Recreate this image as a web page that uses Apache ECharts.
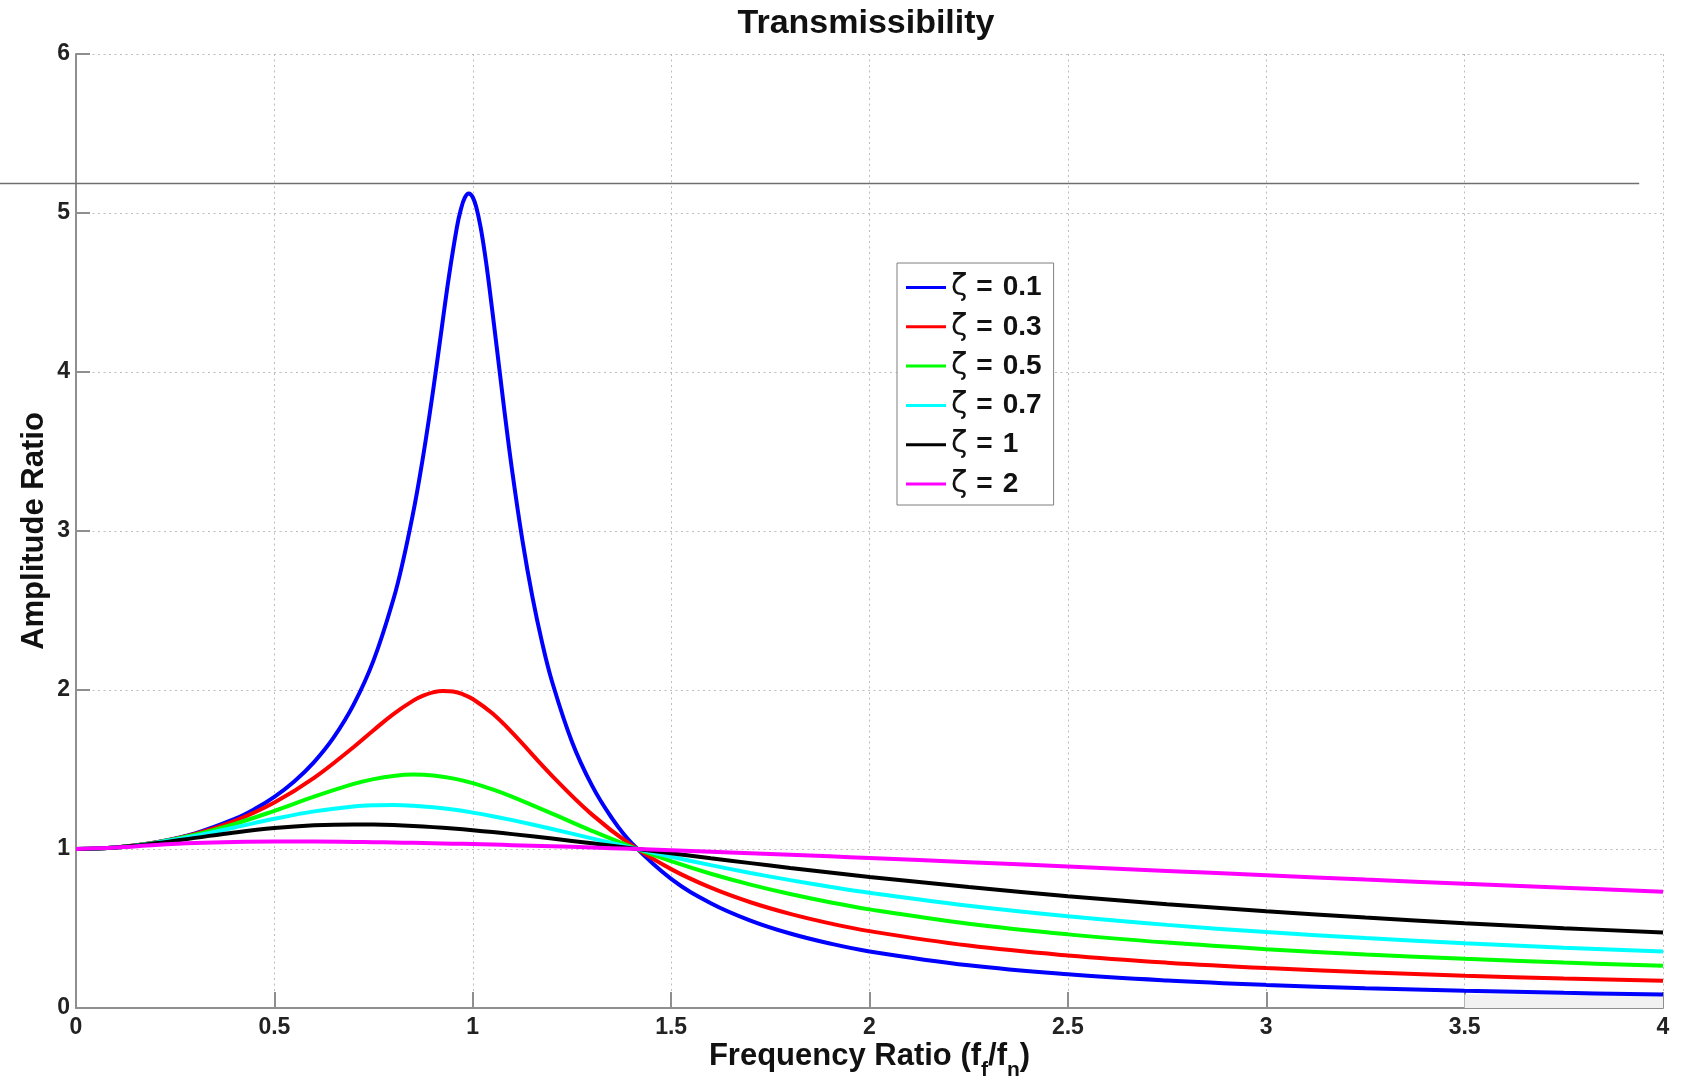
<!DOCTYPE html>
<html>
<head>
<meta charset="utf-8">
<title>Transmissibility</title>
<script src="https://cdn.jsdelivr.net/npm/echarts@6/dist/echarts.min.js"></script>
<style>
  html, body { margin: 0; padding: 0; background: #fff; }
  #chart { width: 1696px; height: 1082px; }
</style>
</head>
<body>
<div id="chart"></div>
<script>
// Frequency ratio r = f_f / f_n, finer sampling for the lightly damped curve around resonance
const ratioFine = [0, 0.1, 0.2, 0.3, 0.4, 0.45, 0.5, 0.55, 0.6, 0.65, 0.7, 0.75,
  0.8, 0.825, 0.85, 0.865, 0.88, 0.9, 0.92, 0.94, 0.96, 0.97, 0.98, 0.99,
  1.0, 1.01, 1.02, 1.03, 1.04, 1.06, 1.08, 1.1, 1.125, 1.15, 1.175, 1.2,
  1.25, 1.3, 1.35, 1.4, 1.5, 1.6, 1.7, 1.8, 1.9, 2.0,
  2.25, 2.5, 2.75, 3.0, 3.25, 3.5, 3.75, 4.0];

// Slightly denser around the ζ = 0.3 peak
const ratioMid = [0, 0.1, 0.2, 0.3, 0.4, 0.5, 0.6, 0.7, 0.75, 0.8, 0.85, 0.875, 0.9, 0.925, 0.95, 0.975,
  1.0, 1.05, 1.1, 1.2, 1.3, 1.4, 1.5, 1.6, 1.7, 1.8, 1.9, 2.0,
  2.25, 2.5, 2.75, 3.0, 3.25, 3.5, 3.75, 4.0];

const ratio = [0, 0.1, 0.2, 0.3, 0.4, 0.5, 0.6, 0.7, 0.75, 0.8, 0.85, 0.9, 0.95,
  1.0, 1.05, 1.1, 1.2, 1.3, 1.4, 1.5, 1.6, 1.7, 1.8, 1.9, 2.0,
  2.25, 2.5, 2.75, 3.0, 3.25, 3.5, 3.75, 4.0];

// Amplitude ratio for each damping ratio
const zeta01 = [1, 1.0101, 1.0416, 1.0985, 1.1889, 1.2510, 1.3282, 1.4247, 1.5468, 1.7035, 1.9093, 2.1863,
  2.5707, 2.8194, 3.1169, 3.3221, 3.5486, 3.8822, 4.2422, 4.6017, 4.9099, 5.0228, 5.0962, 5.1227,
  5.0990, 5.0257, 4.9076, 4.7530, 4.5714, 4.1655, 3.7521, 3.3666, 2.9445, 2.5904, 2.2964, 2.0519,
  1.6745, 1.4013, 1.1965, 1.0385, 0.8122, 0.6593, 0.5500, 0.4685, 0.4056, 0.3559,
  0.2683, 0.2120, 0.1733, 0.1454, 0.1244, 0.1083, 0.0955, 0.0853];

const zeta03 = [1, 1.0101, 1.0410, 1.0953, 1.1772, 1.2925, 1.4474, 1.6417, 1.7472, 1.8487, 1.9334, 1.9645, 1.9853, 1.9943, 1.9905, 1.9734,
  1.9437, 1.8517, 1.7299, 1.4603, 1.2178, 1.0238, 0.8735, 0.7568, 0.6651, 0.5919, 0.5324, 0.4834,
  0.3924, 0.3302, 0.2851, 0.2511, 0.2245, 0.2032, 0.1858, 0.1712];

const zeta05 = [1, 1.0100, 1.0400, 1.0896, 1.1576, 1.2403, 1.3293, 1.4094, 1.4396, 1.4598, 1.4678, 1.4626, 1.4443,
  1.4142, 1.3744, 1.3275, 1.2221, 1.1144, 1.0135, 0.9233, 0.8443, 0.7759, 0.7166, 0.6651, 0.6202,
  0.5302, 0.4631, 0.4112, 0.3701, 0.3367, 0.3090, 0.2856, 0.2656];

const zeta07 = [1, 1.0099, 1.0385, 1.0822, 1.1353, 1.1898, 1.2367, 1.2674, 1.2747, 1.2763, 1.2721, 1.2624, 1.2478,
  1.2289, 1.2065, 1.1814, 1.1258, 1.0669, 1.0082, 0.9517, 0.8987, 0.8494, 0.8041, 0.7626, 0.7245,
  0.6429, 0.5769, 0.5228, 0.4778, 0.4399, 0.4076, 0.3796, 0.3553];

const zeta10 = [1, 1.0097, 1.0356, 1.0699, 1.1040, 1.1314, 1.1486, 1.1547, 1.1538, 1.1505, 1.1450, 1.1376, 1.1286,
  1.1180, 1.1063, 1.0935, 1.0656, 1.0356, 1.0045, 0.9730, 0.9417, 0.9111, 0.8812, 0.8524, 0.8246,
  0.7604, 0.7033, 0.6529, 0.6083, 0.5688, 0.5337, 0.5023, 0.4743];

const zeta20 = [1, 1.0087, 1.0248, 1.0372, 1.0441, 1.0468, 1.0468, 1.0447, 1.0431, 1.0411, 1.0389, 1.0364, 1.0337,
  1.0308, 1.0277, 1.0243, 1.0172, 1.0095, 1.0012, 0.9925, 0.9833, 0.9738, 0.9640, 0.9539, 0.9436,
  0.9171, 0.8898, 0.8623, 0.8349, 0.8079, 0.7815, 0.7558, 0.7310];

const dampingValues = ['0.1', '0.3', '0.5', '0.7', '1', '2'];
const dampingNames = dampingValues.map((v) => 'ζ = ' + v);

// Reference level line across the top of the peak, and shaded band at the far right
const refLevel = 5.19;
const refLineEndRatio = 3.94;
const shadeRange = [3.5, 4.0];
const shadeTop = 0.085;

const curveColors = ['#0000ff', '#ff0000', '#00ff00', '#00ffff', '#000000', '#ff00ff'];
const curveSets = [
  [ratioFine, zeta01], [ratioMid, zeta03], [ratio, zeta05],
  [ratio, zeta07], [ratio, zeta10], [ratio, zeta20]
];

const pairUp = (xs, ys) => xs.map((x, i) => [x, ys[i]]);

const FONT = '"Liberation Sans", Arial, Helvetica, sans-serif';
const axisGrey = '#8f8f8f';
const gridGrey = '#bdbdbd';
const labelColor = '#222';

const series = curveSets.map(([xs, ys], i) => {
  const s = {
    name: dampingNames[i],
    type: 'line',
    data: pairUp(xs, ys),
    symbol: 'none',
    showSymbol: false,
    smooth: 0.4,
    lineStyle: { color: curveColors[i], width: 4 },
    itemStyle: { color: curveColors[i] },
    emphasis: { disabled: true },
    animation: false
  };
  if (i === 0) {
    s.markArea = {
      silent: true,
      itemStyle: { color: '#f1f1f1' },
      data: [[{ xAxis: shadeRange[0], yAxis: 0 }, { xAxis: shadeRange[1], yAxis: shadeTop }]]
    };
  }
  return s;
});

const chart = echarts.init(document.getElementById('chart'), null, { renderer: 'canvas' });

chart.setOption({
  animation: false,
  backgroundColor: '#ffffff',
  title: {
    text: 'Transmissibility',
    left: 866,
    top: 7,
    padding: 0,
    textAlign: 'center',
    textStyle: { fontFamily: FONT, fontWeight: 'bold', fontSize: 34, color: '#111' }
  },
  grid: { left: 76, right: 33, top: 54, bottom: 74, containLabel: false, outerBoundsMode: 'none' },
  legend: {
    orient: 'vertical',
    left: 897,
    top: 263,
    padding: [9.5, 12, 6, 9],
    icon: 'rect',
    itemWidth: 40,
    itemHeight: 3,
    itemGap: 9.3,
    backgroundColor: '#ffffff',
    borderColor: '#7f7f7f',
    borderWidth: 1,
    borderRadius: 0,
    data: dampingNames,
    selectedMode: false,
    formatter: (name) => '{z|ζ}{e|=}{d|' + name.split('= ')[1] + '}',
    textStyle: {
      fontFamily: FONT,
      fontSize: 28,
      fontWeight: 'bold',
      color: '#111',
      lineHeight: 30,
      rich: {
        z: { fontFamily: '"DejaVu Sans", "Noto Sans", sans-serif', fontWeight: 'normal', fontSize: 30, lineHeight: 30, color: '#111' },
        e: { fontFamily: FONT, fontWeight: 'bold', fontSize: 28, lineHeight: 30, color: '#111', padding: [0, 0, 0, 9] },
        d: { fontFamily: FONT, fontWeight: 'bold', fontSize: 28, lineHeight: 30, color: '#111', padding: [0, 0, 0, 10] }
      }
    }
  },
  xAxis: {
    type: 'value',
    min: 0,
    max: 4,
    interval: 0.5,
    name: '{a|Frequency Ratio (f}{s|f}{a|/f}{s|n}{a|)}',
    nameLocation: 'middle',
    nameGap: 23,
    nameMoveOverlap: false,
    nameTextStyle: {
      rich: {
        a: { fontFamily: FONT, fontWeight: 'bold', fontSize: 31, lineHeight: 50, color: '#111' },
        s: { fontFamily: FONT, fontWeight: 'bold', fontSize: 21, lineHeight: 21, padding: [29, 0, 0, 0], color: '#111' }
      }
    },
    axisLine: { show: true, onZero: false, lineStyle: { color: axisGrey, width: 2 } },
    axisTick: { show: true, inside: true, length: 16, lineStyle: { color: axisGrey, width: 2 } },
    axisLabel: { margin: 8, fontFamily: FONT, fontWeight: 'bold', fontSize: 23, color: labelColor },
    splitLine: { show: true, lineStyle: { color: gridGrey, width: 1, type: [2, 3.5] } }
  },
  yAxis: {
    type: 'value',
    min: 0,
    max: 6,
    interval: 1,
    name: 'Amplitude Ratio',
    nameLocation: 'middle',
    nameGap: 26,
    nameMoveOverlap: false,
    nameTextStyle: { fontFamily: FONT, fontWeight: 'bold', fontSize: 31, color: '#111' },
    axisLine: { show: true, onZero: false, lineStyle: { color: axisGrey, width: 2 } },
    axisTick: { show: true, inside: true, length: 14, lineStyle: { color: axisGrey, width: 2 } },
    axisLabel: { margin: 6, fontFamily: FONT, fontWeight: 'bold', fontSize: 23, color: labelColor },
    splitLine: { show: true, lineStyle: { color: gridGrey, width: 1, type: [2, 3.5] } }
  },
  series: series
});

// Horizontal reference line at the resonance level, running in from the left page edge
const refPoint = chart.convertToPixel({ gridIndex: 0 }, [refLineEndRatio, refLevel]);
chart.setOption({
  graphic: [{
    type: 'line',
    silent: true,
    z: 100,
    shape: { x1: 0, y1: Math.round(refPoint[1]) + 0.5, x2: refPoint[0], y2: Math.round(refPoint[1]) + 0.5 },
    style: { stroke: '#6f6f6f', lineWidth: 1.5 }
  }]
});
</script>
</body>
</html>
